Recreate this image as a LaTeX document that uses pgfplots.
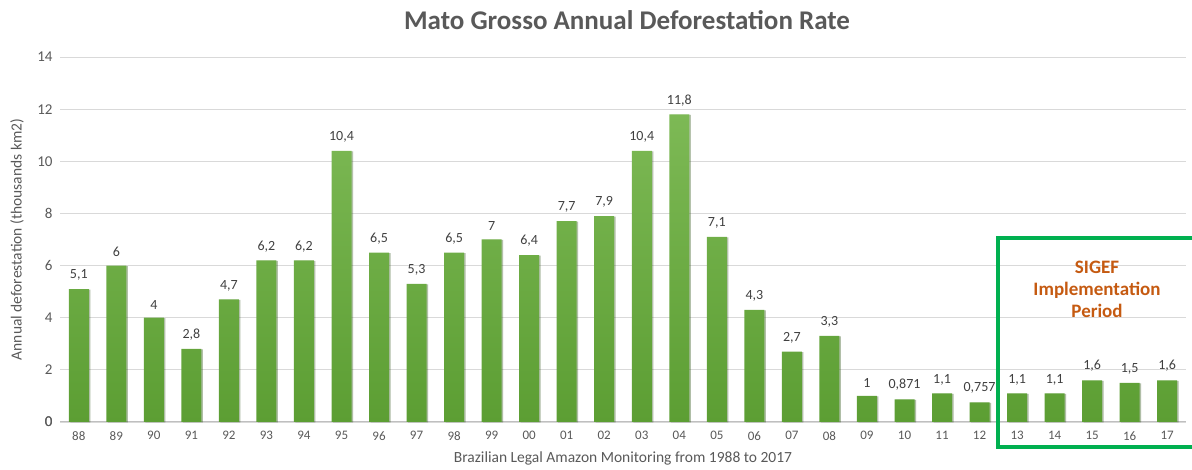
\documentclass[border=0pt]{standalone}
\usepackage{fontspec}
\setmainfont{Carlito}
\usepackage{pgfplots}
\pgfplotsset{compat=1.18}
\usetikzlibrary{shadows}
\definecolor{txtgray}{HTML}{595959}
\definecolor{lblgray}{HTML}{404040}
\definecolor{gridgray}{HTML}{D9D9D9}
\definecolor{axisgray}{HTML}{BFBFBF}
\definecolor{barTop}{HTML}{7DB955}
\definecolor{barBot}{HTML}{5C9E33}
\definecolor{boxgreen}{HTML}{00B050}
\definecolor{sigef}{HTML}{C55A11}
\begin{document}
\begin{tikzpicture}
\path[use as bounding box] (-60bp,-48bp) rectangle (1132bp,422bp);
\begin{axis}[
  scale only axis,
  width=1126bp, height=365bp,
  xmin=-0.5, xmax=29.5,
  ymin=0, ymax=14,
  ytick={0,2,...,14},
  xtick={0,...,29},
  xticklabels={88,89,90,91,92,93,94,95,96,97,98,99,00,01,02,03,04,05,06,07,08,09,10,11,12,13,14,15,16,17},
  axis line style={draw=none},
  axis x line*=bottom,
  tick style={draw=none},
  ymajorgrids,
  grid style={gridgray, line width=0.8bp},
  extra y ticks={0},
  extra y tick style={grid style={axisgray, line width=1bp}},
  /pgf/number format/assume math mode=true,
  /pgf/number format/use comma,
  /pgf/number format/precision=3,
  xticklabel style={font=\fontsize{13bp}{15bp}\selectfont, text=txtgray, yshift=-6bp},
  yticklabel style={font=\fontsize{15bp}{17bp}\selectfont, text=txtgray, xshift=-4bp},
  ylabel={Annual deforestation (thousands km2)},
  every axis y label/.style={at={(axis description cs:-0.0382,0.5)}, rotate=90, anchor=center,
    font=\fontsize{15.5bp}{18bp}\selectfont, text=txtgray},
  xlabel={Brazilian Legal Amazon Monitoring from 1988 to 2017},
  every axis x label/.style={at={(axis description cs:0.5,0)}, anchor=center, yshift=-36bp,
    font=\fontsize{15.5bp}{18bp}\selectfont, text=txtgray},
  title={\textbf{Mato Grosso Annual Deforestation Rate}},
  title style={font=\fontsize{27bp}{30bp}\selectfont, text=txtgray, at={(axis description cs:0.5,1)}, anchor=center, yshift=31bp, xshift=4bp},
  clip=false,
  nodes near coords,
  every node near coord/.append style={font=\fontsize{14bp}{16bp}\selectfont, text=lblgray, yshift=5bp},
]
\addplot[ybar, bar width=20bp, draw=none, top color=barTop, bottom color=barBot,
  drop shadow={shadow xshift=1.5bp, shadow yshift=-0.5bp, opacity=0.22, fill=black}]
  coordinates {
  (0,5.1) (1,6) (2,4) (3,2.8) (4,4.7) (5,6.2) (6,6.2) (7,10.4) (8,6.5) (9,5.3)
  (10,6.5) (11,7) (12,6.4) (13,7.7) (14,7.9) (15,10.4) (16,11.8) (17,7.1) (18,4.3) (19,2.7)
  (20,3.3) (21,1) (22,0.871) (23,1.1) (24,0.757) (25,1.1) (26,1.1) (27,1.6) (28,1.5) (29,1.6)
  };
% SIGEF period frame and caption
\draw[boxgreen, line width=4bp] (axis cs:24.5,-0.94) rectangle (axis cs:29.7,7.06);
\node[text=sigef, font=\fontsize{19bp}{22bp}\selectfont\bfseries, align=center]
  at (axis cs:27.13,5.1) {SIGEF\\Implementation\\Period};
\end{axis}
\end{tikzpicture}
\end{document}
